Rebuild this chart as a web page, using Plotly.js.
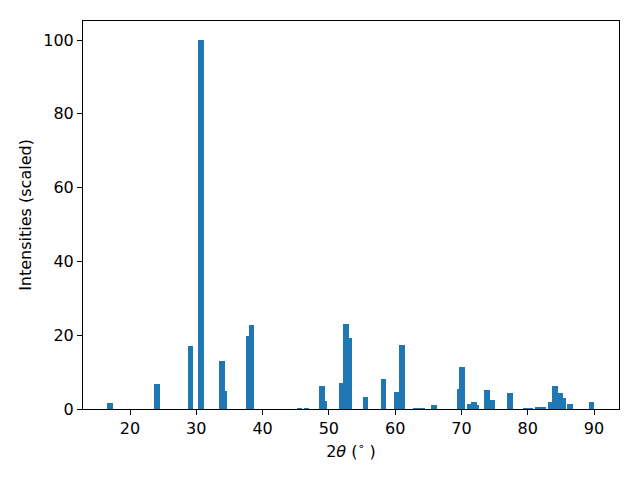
<!DOCTYPE html>
<html>
<head>
<meta charset="utf-8">
<script src="https://cdn.plot.ly/plotly-3.0.1.min.js"></script>
<style>html,body{margin:0;padding:0;background:#fff;}</style>
</head>
<body>
<div id="chart" style="width:640px;height:480px;"></div>
<script>
const twoTheta = [17.0, 24.07, 29.13, 30.7, 33.88, 34.18, 37.95, 38.35, 45.57, 46.63,
  48.96, 49.27, 51.98, 52.58, 53.04, 55.5, 58.24, 60.28, 61.03, 63.1, 63.6, 64.1, 65.9,
  69.8, 70.1, 71.2, 71.9, 72.2, 73.85, 74.7, 77.3, 79.7, 80.3, 81.5, 82.3,
  83.5, 84.1, 84.9, 85.3, 86.4, 89.6];
const intensity = [1.6, 6.8, 17.1, 100, 13.0, 4.9, 19.8, 22.7, 0.3, 0.3,
  6.2, 2.2, 7.0, 23.0, 19.2, 3.2, 8.1, 4.6, 17.3, 0.3, 0.3, 0.3, 1.1,
  5.4, 11.4, 1.4, 2.0, 1.2, 5.1, 2.5, 4.3, 0.3, 0.3, 0.5, 0.5,
  2.0, 6.2, 4.3, 3.0, 1.4, 2.0];
const xTicks = [20, 30, 40, 50, 60, 70, 80, 90];
const yTicks = [0, 20, 40, 60, 80, 100];

const trace = {
  type: 'bar',
  x: twoTheta,
  y: intensity,
  width: twoTheta.map(() => 0.85),
  marker: {color: '#1f77b4', line: {width: 0}},
  hoverinfo: 'x+y'
};
const axisCommon = {
  showgrid: false, zeroline: false, showline: true, mirror: true,
  linecolor: '#000', linewidth: 1, ticks: 'outside', ticklen: 5, tickwidth: 1,
  tickcolor: '#000', tickfont: {family: 'DejaVu Sans', size: 16, color: '#000'}
};
const layout = {
  width: 640, height: 480,
  margin: {l: 83, r: 21, t: 21, b: 71, pad: 0},
  paper_bgcolor: '#fff', plot_bgcolor: '#fff',
  showlegend: false,
  bargap: 0,
  font: {family: 'DejaVu Sans', color: '#000'},
  xaxis: Object.assign({}, axisCommon, {
    range: [12.91, 93.77], tickvals: xTicks, ticktext: xTicks.map(String),
    title: {text: '2<i>θ</i> (<sup>∘</sup> )', font: {family: 'DejaVu Sans', size: 16, color: '#000'}, standoff: 8}
  }),
  yaxis: Object.assign({}, axisCommon, {
    range: [0, 105.15], tickvals: yTicks, ticktext: yTicks.map(String),
    title: {text: 'Intensities (scaled)', font: {family: 'DejaVu Sans', size: 16, color: '#000'}, standoff: 7}
  })
};
Plotly.newPlot('chart', [trace], layout, {displayModeBar: false, staticPlot: true});
</script>
</body>
</html>
